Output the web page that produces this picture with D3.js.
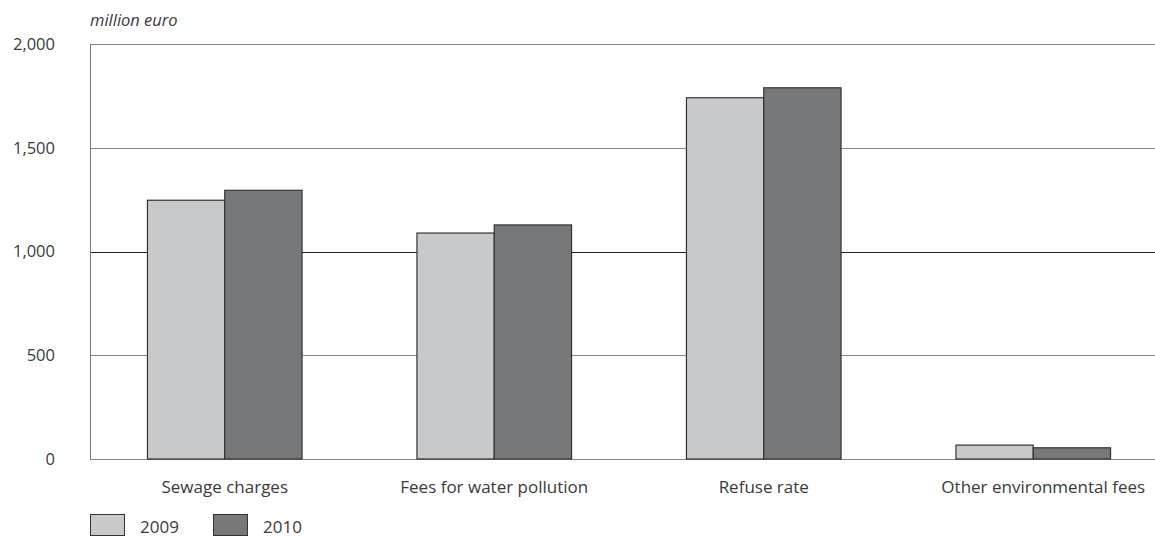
<!DOCTYPE html>
<html><head><meta charset="utf-8">
<script src="https://cdn.jsdelivr.net/npm/d3@7"></script>
<style>body{margin:0;background:#fff;} text{font-family:"Open Sans",sans-serif;fill:#3a3a3a;}</style>
</head><body>
<svg id="c" width="1155" height="539"></svg>
<script>
const categories = ["Sewage charges","Fees for water pollution","Refuse rate","Other environmental fees"];
const seriesNames = ["2009","2010"];
const values2009 = [1247, 1089, 1741, 67];
const values2010 = [1295, 1128, 1789, 54];
const yTicks = [0,500,1000,1500,2000];
const colors = ["#c8c9cb","#77787a"];

const svg = d3.select("#c");
const W = 1155;
const x = d3.scaleBand().domain(categories).range([90, 1168]).paddingInner(0).paddingOuter(0);
const pairW = 154.6;
const x1 = d3.scaleBand().domain(seriesNames).range([0, pairW]);
const y = d3.scaleLinear().domain([0,2000]).range([459, 44]);

// gridlines
svg.append("g").selectAll("line").data(yTicks).join("line")
  .attr("x1", 90).attr("x2", W).attr("y1", d=>Math.round(y(d))+0.5).attr("y2", d=>Math.round(y(d))+0.5)
  .attr("stroke", d=> d===1000 ? "#222" : "#888").attr("stroke-width", 1);
// left axis line
svg.append("line").attr("x1", 90.5).attr("x2", 90.5).attr("y1", y(2000)).attr("y2", y(0))
  .attr("stroke","#777");

// y tick labels
const fmt = d3.format(",");
svg.append("g").selectAll("text").data(yTicks).join("text")
  .attr("x", 55).attr("y", d=>y(d)).attr("dy","0.35em").attr("text-anchor","end")
  .style("font-size","16.5px").text(d=>fmt(d));

svg.append("text").attr("x", 90).attr("y", 26).style("font-size","16.5px").style("font-style","italic").text("million euro");

const data = categories.map((c,i)=>({c, vals:[values2009[i], values2010[i]]}));
const g = svg.append("g").selectAll("g").data(data).join("g")
  .attr("transform", d=>`translate(${x(d.c) + x.bandwidth()/2 - pairW/2},0)`);
g.selectAll("rect").data(d=>d.vals.map((v,j)=>({v, s:seriesNames[j], j}))).join("rect")
  .attr("x", d=>x1(d.s)).attr("width", x1.bandwidth())
  .attr("y", d=>y(d.v)).attr("height", d=>y(0)-y(d.v))
  .attr("fill", d=>colors[d.j]).attr("stroke","#333").attr("stroke-width",1.2);

// category labels
svg.append("g").selectAll("text").data(categories).join("text")
  .attr("x", (d,i)=>x(d)+x.bandwidth()/2 + (i===3 ? 10 : 0)).attr("y", 493).attr("text-anchor","middle")
  .style("font-size","17px").text(d=>d);

// legend
const lg = svg.append("g").selectAll("g").data(seriesNames).join("g")
  .attr("transform",(d,i)=>`translate(${90 + i*123},0)`);
lg.append("rect").attr("x",0.5).attr("y",514.5).attr("width",34).attr("height",21)
  .attr("fill",(d,i)=>colors[i]).attr("stroke","#333");
lg.append("text").attr("x",50).attr("y",533).style("font-size","17px").text(d=>d);
</script>
</body></html>
